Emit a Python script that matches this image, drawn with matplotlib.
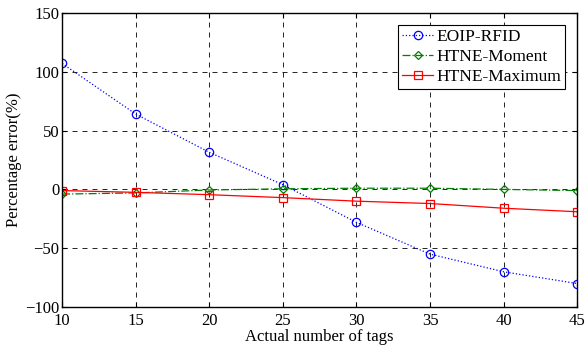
import matplotlib.pyplot as plt

plt.rcParams['font.family'] = ['Liberation Serif', 'DejaVu Serif']

tags = [10, 15, 20, 25, 30, 35, 40, 45]
eoip = [107, 64, 31.5, 4, -28, -55, -70, -80]
moment = [-4, -3, -0.5, 0.5, 1, 1, 0, -1]
maximum = [-1, -2.5, -4.5, -7, -10, -12, -16, -19]

fig = plt.figure(figsize=(5.86, 3.47), dpi=100)
ax = fig.add_axes([0.106, 0.115, 0.879, 0.848])

ax.plot(tags, eoip, color="blue", linestyle=":", linewidth=0.9, marker="o",
        markersize=6, markerfacecolor="none", markeredgewidth=0.9, label="EOIP-RFID")
ax.plot(tags, moment, color="green", linestyle="-.", linewidth=0.9, marker="D",
        markersize=4.5, markerfacecolor="none", markeredgewidth=0.9, label="HTNE-Moment")
ax.plot(tags, maximum, color="red", linestyle="-", linewidth=0.9, marker="s",
        markersize=5.5, markerfacecolor="none", markeredgewidth=0.9, label="HTNE-Maximum")

ax.set_xlim(10, 45)
ax.set_ylim(-100, 150)
ax.set_xticks(tags)
ax.set_yticks([-100, -50, 0, 50, 100, 150])
ax.grid(True, color="black", linestyle=(0, (6, 6)), linewidth=0.6)
ax.tick_params(direction="in", top=True, right=True, labelsize=12)
ax.tick_params(axis="x", pad=4)
ax.tick_params(axis="y", pad=2)
for s in ax.spines.values():
    s.set_linewidth(1.0)

ax.set_xlabel("Actual number of tags", fontsize=12, labelpad=0)
ax.set_ylabel("Percentage error(%)", fontsize=12, labelpad=2)

leg = ax.legend(loc="upper right", fontsize=12.5, fancybox=False, framealpha=1,
                edgecolor="black", borderpad=0.25, labelspacing=0.2,
                handlelength=1.8, handletextpad=0.15, borderaxespad=0.7)
leg.get_frame().set_linewidth(0.8)

fig.savefig("out.png", dpi=100)
